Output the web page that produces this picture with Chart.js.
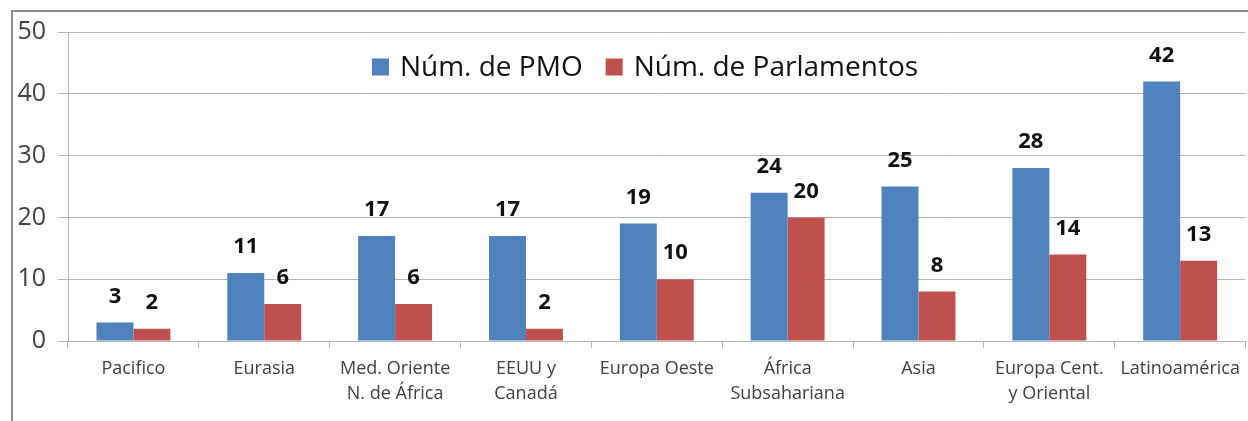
<!DOCTYPE html>
<html>
<head>
<meta charset="utf-8">
<script src="https://cdn.jsdelivr.net/npm/chart.js@4.4.0/dist/chart.umd.min.js"></script>
<style>
  html, body { margin: 0; padding: 0; background: #fff; overflow: hidden; }
  #wrap { position: relative; width: 1248px; height: 421px; }
  #frame { position: absolute; left: 11px; top: 10px; width: 1260px; height: 440px;
           border: 2px solid #8c8c8c; box-sizing: border-box; }
  #cnv { position: absolute; left: 0; top: 0; }
</style>
</head>
<body>
<div id="wrap">
  <div id="frame"></div>
  <canvas id="cnv" width="1248" height="421"></canvas>
</div>
<script>
const regions = [
  'Pacifico', 'Eurasia', ['Med. Oriente', 'N. de África'], ['EEUU y', 'Canadá'],
  'Europa Oeste', ['África', 'Subsahariana'], 'Asia', ['Europa Cent.', 'y Oriental'], 'Latinoamérica'
];
const pmo = [3, 11, 17, 17, 19, 24, 25, 28, 42];
const parlamentos = [2, 6, 6, 2, 10, 20, 8, 14, 13];
const yTicks = [0, 10, 20, 30, 40, 50];

const FONT = "'Open Sans', 'Noto Sans', sans-serif";
const textColor = '#404040';
const gridColor = '#b4b4b4';

// numbers above each bar
const valueLabels = {
  id: 'valueLabels',
  afterDatasetsDraw(chart) {
    const ctx = chart.ctx;
    ctx.save();
    ctx.font = 'bold 22px ' + FONT;
    ctx.fillStyle = '#111';
    ctx.textAlign = 'center';
    ctx.textBaseline = 'bottom';
    chart.data.datasets.forEach((ds, i) => {
      chart.getDatasetMeta(i).data.forEach((bar, j) => {
        ctx.fillText(ds.data[j], bar.x, bar.y - 15);
      });
    });
    ctx.restore();
  }
};

// legend drawn inside the plot area, centred near the top
const innerLegend = {
  id: 'innerLegend',
  afterDraw(chart) {
    const ctx = chart.ctx;
    ctx.save();
    ctx.font = '28px ' + FONT;
    ctx.textBaseline = 'middle';
    const box = 17, gap = 11, spacing = 23;
    const items = chart.data.datasets.map(ds => ({ label: ds.label, color: ds.backgroundColor, w: ctx.measureText(ds.label).width }));
    const total = items.reduce((s, it) => s + box + gap + it.w, 0) + spacing * (items.length - 1);
    let x = 645 - total / 2;
    const y = 67;
    items.forEach(it => {
      ctx.fillStyle = it.color;
      ctx.fillRect(x, y - box / 2, box, box);
      x += box + gap;
      ctx.fillStyle = '#111';
      ctx.fillText(it.label, x, y + 1);
      x += it.w + spacing;
    });
    ctx.restore();
  }
};

new Chart(document.getElementById('cnv'), {
  type: 'bar',
  data: {
    labels: regions,
    datasets: [
      { label: 'Núm. de PMO', data: pmo, backgroundColor: '#4F81BD' },
      { label: 'Núm. de Parlamentos', data: parlamentos, backgroundColor: '#C0504D' }
    ]
  },
  options: {
    responsive: false,
    animation: false,
    devicePixelRatio: 1,
    layout: { padding: { left: 14, top: 32, right: 1, bottom: 0 } },
    plugins: { legend: { display: false }, tooltip: { enabled: false } },
    datasets: { bar: { categoryPercentage: 0.565, barPercentage: 1.0 } },
    scales: {
      x: {
        afterFit: axis => { axis.height = 80; },
        grid: { offset: true, drawOnChartArea: false, drawTicks: true, tickLength: 7, color: gridColor },
        border: { color: gridColor },
        ticks: { color: textColor, font: { family: FONT, size: 18, lineHeight: 1.4 }, padding: 8, maxRotation: 0, autoSkip: false }
      },
      y: {
        min: 0, max: 50,
        afterBuildTicks: axis => { axis.ticks = yTicks.map(v => ({ value: v })); },
        afterFit: axis => { axis.width = 54; },
        grid: { color: gridColor, tickLength: 10 },
        border: { color: gridColor },
        ticks: { color: textColor, font: { family: FONT, size: 25 }, padding: 12 }
      }
    }
  },
  plugins: [valueLabels, innerLegend]
});
</script>
</body>
</html>
